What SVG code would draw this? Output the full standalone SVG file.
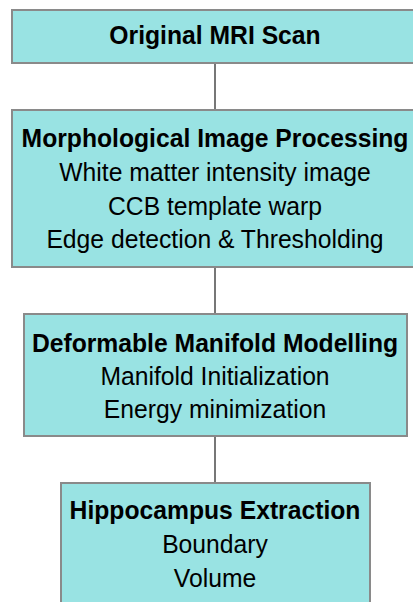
<svg xmlns="http://www.w3.org/2000/svg" width="413" height="602" viewBox="0 0 413 602">
<style>
.box{fill:#99e3e3;stroke:#8a8a8a;stroke-width:2}
.t{font-family:"Liberation Sans",Arial,sans-serif;font-size:25.6px;fill:#000;text-anchor:middle}
.b{font-weight:bold}
.c{stroke:#777;stroke-width:2;fill:none}
</style>
<rect width="413" height="602" fill="#fff"/>
<g id="connectors">
<line class="c" x1="215" y1="63" x2="215" y2="110"/>
<line class="c" x1="215" y1="267" x2="215" y2="314"/>
<line class="c" x1="215" y1="436" x2="215" y2="483"/>
</g>
<g id="original-mri-scan">
<rect class="box" x="12" y="10" width="410" height="53"/>
<g transform="translate(215,0) scale(0.965,1)">
<text class="t b" x="0" y="44">Original MRI Scan</text>
</g>
</g>
<g id="morphological-image-processing">
<rect class="box" x="12" y="110" width="410" height="157"/>
<g transform="translate(215,0) scale(0.965,1)">
<text class="t b" x="0" y="147">Morphological Image Processing</text>
<text class="t" x="0" y="181">White matter intensity image</text>
<text class="t" x="0" y="215">CCB template warp</text>
<text class="t" x="0" y="248">Edge detection &amp; Thresholding</text>
</g>
</g>
<g id="deformable-manifold-modelling">
<rect class="box" x="24" y="314" width="383" height="122"/>
<g transform="translate(215,0) scale(0.965,1)">
<text class="t b" x="0" y="352">Deformable Manifold Modelling</text>
<text class="t" x="0" y="385">Manifold Initialization</text>
<text class="t" x="0" y="418">Energy minimization</text>
</g>
</g>
<g id="hippocampus-extraction">
<rect class="box" x="61" y="483" width="309" height="130"/>
<g transform="translate(215,0) scale(0.965,1)">
<text class="t b" x="0" y="519">Hippocampus Extraction</text>
<text class="t" x="0" y="553">Boundary</text>
<text class="t" x="0" y="587">Volume</text>
</g>
</g>
</svg>
